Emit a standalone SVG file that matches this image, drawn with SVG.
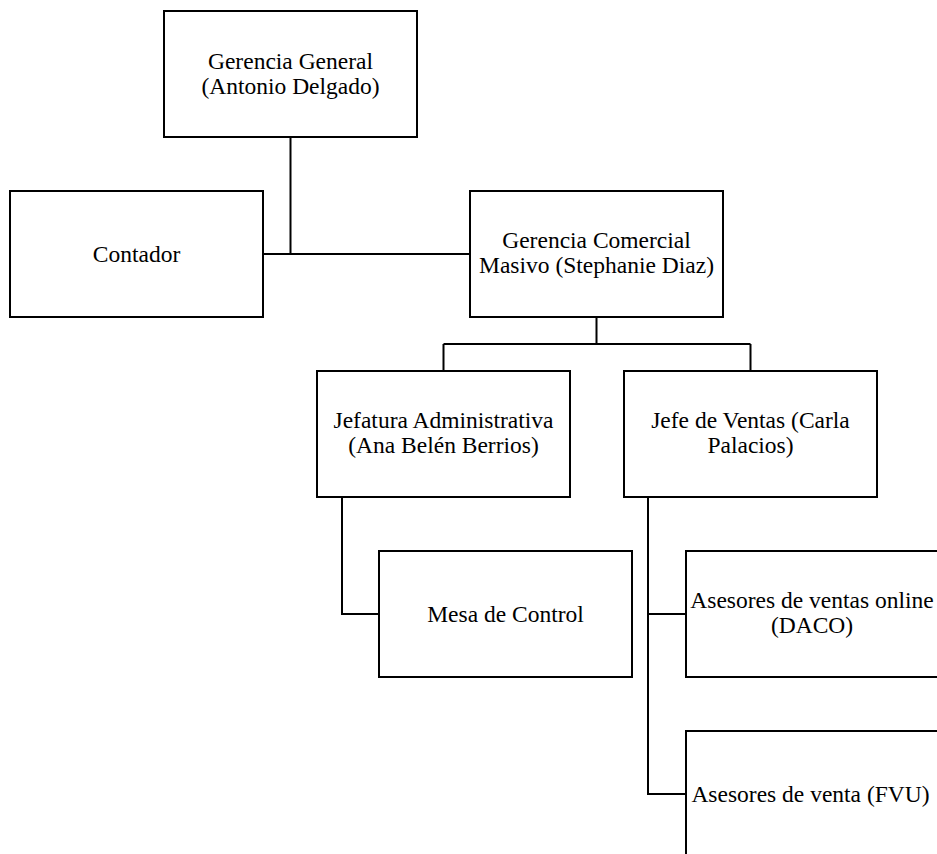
<svg xmlns="http://www.w3.org/2000/svg" width="937" height="854" viewBox="0 0 937 854">
  <style>
    .box { fill: #ffffff; stroke: #000000; stroke-width: 2; }
    .link { fill: none; stroke: #000000; stroke-width: 2; }
    .lbl { font-family: "Liberation Serif", "Times New Roman", serif; font-size: 23.5px; fill: #000000; text-anchor: middle; }
  </style>
  <rect width="937" height="854" fill="#ffffff"/>

  <!-- connectors -->
  <g id="connectors">
    <path class="link" d="M290.5 137 V254"/>
    <path class="link" d="M263 254 H470"/>
    <path class="link" d="M596.5 317 V344 M443.5 344 H750.5 M443.5 344 V371 M750.5 344 V371"/>
    <path class="link" d="M342 497 V614 H379"/>
    <path class="link" d="M648 497 V794 H686 M648 614 H686"/>
  </g>

  <g id="gerencia-general">
    <rect class="box" x="164" y="11" width="253" height="126"/>
    <text class="lbl" x="290.5" y="69">Gerencia General</text>
    <text class="lbl" x="290.5" y="94">(Antonio Delgado)</text>
  </g>

  <g id="contador">
    <rect class="box" x="10" y="191" width="253" height="126"/>
    <text class="lbl" x="136.5" y="262">Contador</text>
  </g>

  <g id="gerencia-comercial">
    <rect class="box" x="470" y="191" width="253" height="126"/>
    <text class="lbl" x="596.5" y="248">Gerencia Comercial</text>
    <text class="lbl" x="596.5" y="273">Masivo (Stephanie Diaz)</text>
  </g>

  <g id="jefatura-administrativa">
    <rect class="box" x="317" y="371" width="253" height="126"/>
    <text class="lbl" x="443.5" y="428">Jefatura Administrativa</text>
    <text class="lbl" x="443.5" y="453">(Ana Belén Berrios)</text>
  </g>

  <g id="jefe-ventas">
    <rect class="box" x="624" y="371" width="253" height="126"/>
    <text class="lbl" x="750.5" y="428">Jefe de Ventas (Carla</text>
    <text class="lbl" x="750.5" y="453">Palacios)</text>
  </g>

  <g id="mesa-control">
    <rect class="box" x="379" y="551" width="253" height="126"/>
    <text class="lbl" x="505.5" y="622">Mesa de Control</text>
  </g>

  <g id="asesores-online">
    <rect class="box" x="686" y="551" width="253" height="126"/>
    <text class="lbl" x="812" y="608">Asesores de ventas online</text>
    <text class="lbl" x="812" y="633">(DACO)</text>
  </g>

  <g id="asesores-fvu">
    <rect class="box" x="686" y="731" width="253" height="126"/>
    <text class="lbl" x="810.5" y="802">Asesores de venta (FVU)</text>
  </g>
</svg>
